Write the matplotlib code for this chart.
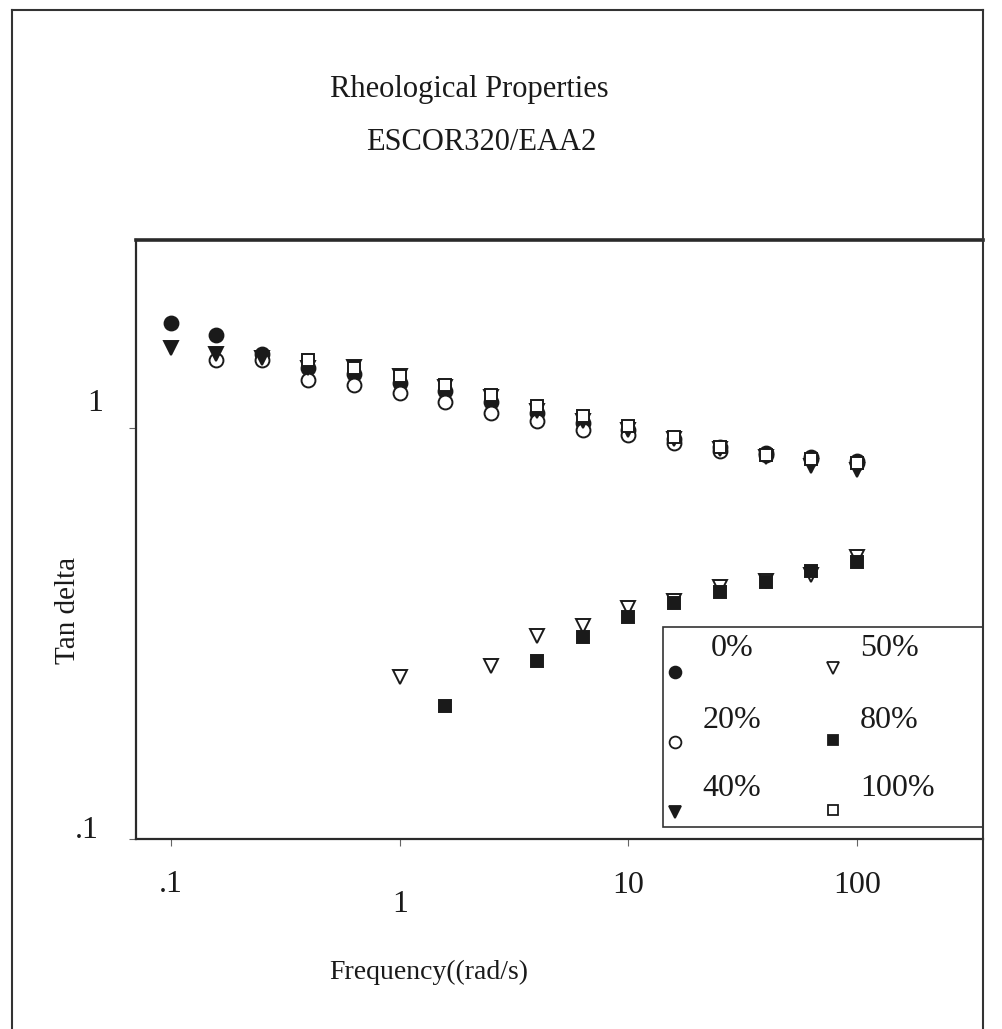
import matplotlib
matplotlib.use("Agg")
import matplotlib.pyplot as plt
from matplotlib.lines import Line2D
from matplotlib.patches import Rectangle

plt.rcParams["font.family"] = ["Liberation Serif", "DejaVu Serif"]

# angular frequency grid, 5 points per decade
freq = [0.1, 0.158, 0.251, 0.398, 0.631, 1.0, 1.58, 2.51, 3.98, 6.31,
        10.0, 15.8, 25.1, 39.8, 63.1, 100.0]

# tan delta for each blend ratio
tan_0 = [1.80, 1.68, 1.51, 1.40, 1.35, 1.29, 1.23, 1.16, 1.09, 1.03,
         0.99, 0.94, 0.90, 0.87, 0.85, 0.83]
tan_20 = [None, 1.46, 1.46, 1.31, 1.27, 1.22, 1.16, 1.09, 1.04, 0.99,
          0.96, 0.92, 0.88, 0.86, 0.84, 0.82]
tan_40 = [1.57, 1.51, 1.48, 1.40, 1.41, 1.34, 1.26, 1.19, 1.10, 1.04,
          0.99, 0.94, 0.89, 0.85, 0.81, 0.79]
tan_50 = [None, None, None, None, None, 0.248, None, 0.264, 0.312, 0.330,
          0.365, 0.380, 0.410, 0.424, 0.439, 0.486]
tan_80 = [None, None, None, None, None, None, 0.211, None, 0.271, 0.310,
          0.347, 0.375, 0.399, 0.422, 0.449, 0.472]
tan_100 = [None, None, None, 1.46, 1.40, 1.34, 1.27, 1.20, 1.13, 1.07,
           1.01, 0.95, 0.90, 0.86, 0.84, 0.82]

series = [
    ("0%", tan_0, "o", "#1a1a1a", 10),
    ("20%", tan_20, "o", "white", 10),
    ("40%", tan_40, "v", "#1a1a1a", 10),
    ("50%", tan_50, "v", "white", 10),
    ("80%", tan_80, "s", "#1a1a1a", 8.5),
    ("100%", tan_100, "s", "white", 8.5),
]

x_ticks = [0.1, 1, 10, 100]
x_tick_labels = [".1", "1", "10", "100"]
y_ticks = [0.1, 1]
y_tick_labels = [".1", "1"]

fig = plt.figure(figsize=(10.02, 10.29), dpi=100)
ax = fig.add_axes([0.1357, 0.1846, 0.8453, 0.5822])

for name, vals, mk, fc, ms in series:
    xs = [f for f, v in zip(freq, vals) if v is not None]
    ys = [v for v in vals if v is not None]
    ax.plot(xs, ys, linestyle="none", marker=mk, markersize=ms,
            markerfacecolor=fc, markeredgecolor="#1a1a1a", markeredgewidth=1.4,
            label=name)

ax.set_xscale("log")
ax.set_yscale("log")
ax.set_xlim(0.0703, 355)
ax.set_ylim(0.1, 2.868)
ax.minorticks_off()
ax.set_xticks(x_ticks)
ax.set_yticks(y_ticks)
ax.set_xticklabels([])
ax.set_yticklabels([])
ax.tick_params(direction="out", length=5, width=0.8, color="#666666")

for side, lw in [("top", 2.6), ("bottom", 1.6), ("left", 1.6), ("right", 1.3)]:
    ax.spines[side].set_linewidth(lw)
    ax.spines[side].set_color("#2a2a2a")

# tick labels placed by hand; the "1" labels sit off their ticks
x_drop = [45, 65, 46, 46]
for val, lab, dy in zip(x_ticks, x_tick_labels, x_drop):
    ax.annotate(lab, xy=(val, 0), xycoords=("data", "axes fraction"),
                xytext=(0, -dy / 1.389), textcoords="offset points",
                ha="center", va="center", fontsize=23, color="#1a1a1a")
y_shift = [9, 25]
y_x = [87, 95]
for val, lab, dy, px in zip(y_ticks, y_tick_labels, y_shift, y_x):
    ax.annotate(lab, xy=(0, val), xycoords=("axes fraction", "data"),
                xytext=((px - 136) / 1.389, dy / 1.389), textcoords="offset points",
                ha="center", va="center", fontsize=23, color="#1a1a1a")


def fx(px):
    return px / 1002


def fy(py):
    return 1 - py / 1029


fig.text(fx(469), fy(90), "Rheological Properties", ha="center",
         va="center", fontsize=22, color="#1a1a1a")
fig.text(fx(481), fy(143), "ESCOR320/EAA2", ha="center",
         va="center", fontsize=22, color="#1a1a1a")
fig.text(fx(68), fy(610), "Tan delta", rotation=90, ha="center",
         va="center", fontsize=21, color="#1a1a1a")
fig.text(fx(429), fy(972), "Frequency((rad/s)", ha="center",
         va="center", fontsize=20, color="#1a1a1a")

# legend box: two columns, marker sits below its label
lx0, ly0, lx1, ly1 = 663, 627, 983, 827
fig.add_artist(Rectangle((fx(lx0), fy(ly1)), fx(lx1) - fx(lx0), fy(ly0) - fy(ly1),
                         transform=fig.transFigure, facecolor="white",
                         edgecolor="#333333", linewidth=1.2))
marker_x = [675, 833]
marker_y = [[672, 742, 812], [668, 740, 810]]
text_x = [732, 860]
text_y = [648, 720, 789]
for i, (name, vals, mk, fc, ms) in enumerate(series):
    col, row = i // 3, i % 3
    fig.add_artist(Line2D([fx(marker_x[col])], [fy(marker_y[col][row])],
                          transform=fig.transFigure, linestyle="none",
                          marker=mk, markersize=ms * 0.85, markerfacecolor=fc,
                          markeredgecolor="#1a1a1a", markeredgewidth=1.3))
    fig.text(fx(text_x[col]), fy(text_y[row]), name,
             ha="center" if col == 0 else "left", va="center", fontsize=23,
             color="#1a1a1a")

# page frame
frame = dict(transform=fig.transFigure, color="#333333", linewidth=1.5)
fig.add_artist(Line2D([fx(12), fx(12)], [fy(10), 0], **frame))
fig.add_artist(Line2D([fx(12), fx(983)], [fy(10), fy(10)], **frame))
fig.add_artist(Line2D([fx(983), fx(983)], [fy(10), 0], **frame))

fig.savefig("out.png", dpi=100)
